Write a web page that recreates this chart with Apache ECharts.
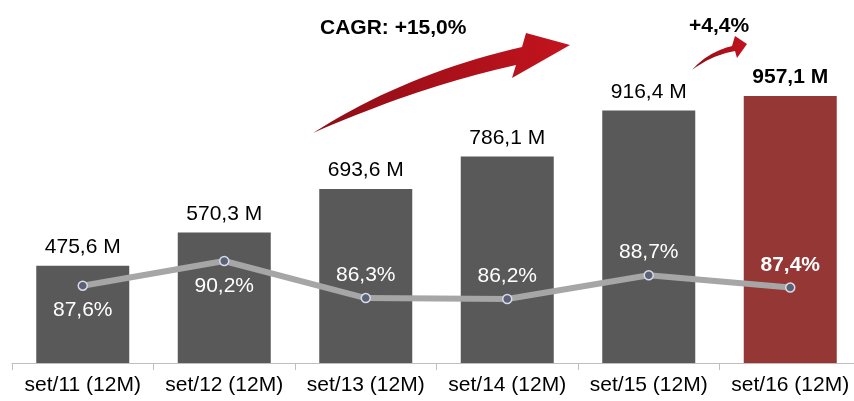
<!DOCTYPE html>
<html>
<head>
<meta charset="utf-8">
<script src="https://cdn.jsdelivr.net/npm/echarts@6/dist/echarts.min.js"></script>
<style>
  html, body { margin: 0; padding: 0; background: #fff; overflow: hidden; }
  #chart { width: 870px; height: 401px; }
</style>
</head>
<body>
<div id="chart"></div>
<script>
// periods and values
var categories = ['set/11 (12M)', 'set/12 (12M)', 'set/13 (12M)', 'set/14 (12M)', 'set/15 (12M)', 'set/16 (12M)']
var revenue = [475.6, 570.3, 693.6, 786.1, 916.4, 957.1]
var margin = [87.6, 90.2, 86.3, 86.2, 88.7, 87.4]
var marginLabelBelow = [true, true, false, false, false, false]
var cagrText = 'CAGR: +15,0%'
var lastGrowthText = '+4,4%'

var last = revenue.length - 1
function fmt(v) { return v.toFixed(1).replace('.', ',') }

// curved arrow outline: upper quad curve, head, lower quad curve back to tail
function quad(p0, c, p1, n) {
  var pts = []
  for (var i = 0; i <= n; i++) {
    var t = i / n, u = 1 - t
    pts.push([u * u * p0[0] + 2 * u * t * c[0] + t * t * p1[0],
              u * u * p0[1] + 2 * u * t * c[1] + t * t * p1[1]])
  }
  return pts
}
function arrow(tail, upC, upEnd, head, lowStart, lowC) {
  return quad(tail, upC, upEnd, 20).concat(head).concat(quad(lowStart, lowC, tail, 20))
}

var arrowFill = {
  type: 'linear', x: 0, y: 0, x2: 1, y2: 0,
  colorStops: [
    { offset: 0, color: '#8e0c16' },
    { offset: 1, color: '#c3141e' }
  ]
}

var barData = revenue.map(function (v, i) {
  var item = { value: v }
  if (i === last) {
    item.itemStyle = { color: '#953735' }
    item.label = { fontWeight: 'bold' }
  }
  return item
})

var lineData = margin.map(function (v, i) {
  var item = {
    value: v,
    label: {
      position: marginLabelBelow[i] ? 'bottom' : 'top',
      distance: marginLabelBelow[i] ? 9 : 7
    }
  }
  if (i === last) item.label.fontWeight = 'bold'
  return item
})

var chart = echarts.init(document.getElementById('chart'))
chart.setOption({
  animation: false,
  textStyle: { fontFamily: 'Liberation Sans, Arial, sans-serif' },
  grid: { left: 12, top: 10.5, bottom: 38, width: 849 },
  xAxis: {
    type: 'category',
    data: categories,
    axisLine: { lineStyle: { color: '#bfbfbf', width: 1 } },
    axisTick: { show: true, length: 7, lineStyle: { color: '#bfbfbf' } },
    axisLabel: { color: '#000', fontSize: 21, margin: 12, interval: 0 }
  },
  yAxis: [
    { type: 'value', min: 200, max: 1200, show: false, splitLine: { show: false } },
    { type: 'value', min: 79.46, max: 116.57, show: false, splitLine: { show: false } }
  ],
  series: [
    {
      type: 'bar',
      data: barData,
      barWidth: 93,
      itemStyle: { color: '#595959' },
      label: {
        show: true,
        position: 'top',
        distance: 8,
        color: '#000',
        fontSize: 21,
        formatter: function (p) { return fmt(p.value) + ' M' }
      }
    },
    {
      type: 'line',
      yAxisIndex: 1,
      data: lineData,
      symbol: 'circle',
      symbolSize: 9,
      lineStyle: { color: '#a6a6a6', width: 6 },
      itemStyle: { color: '#5b6277', borderColor: '#d9dce6', borderWidth: 1.5 },
      label: {
        show: true,
        color: '#fff',
        fontSize: 21,
        formatter: function (p) { return fmt(p.value) + '%' }
      },
      z: 3
    }
  ],
  graphic: [
    {
      type: 'polygon',
      shape: { points: arrow([313, 133], [405, 74], [522, 47], [[526, 33], [570, 45], [512, 78]], [516, 65], [420, 86]) },
      style: { fill: arrowFill }
    },
    {
      type: 'polygon',
      shape: { points: arrow([692, 70], [708, 52], [732, 46], [[735, 36], [747, 44], [737, 58]], [735, 51], [712, 55]) },
      style: { fill: arrowFill }
    },
    {
      type: 'text',
      left: 320, top: 18,
      style: { text: cagrText, fill: '#000', font: 'bold 21px Liberation Sans, Arial, sans-serif' }
    },
    {
      type: 'text',
      left: 689, top: 16,
      style: { text: lastGrowthText, fill: '#000', font: 'bold 21px Liberation Sans, Arial, sans-serif' }
    }
  ]
})
</script>
</body>
</html>
